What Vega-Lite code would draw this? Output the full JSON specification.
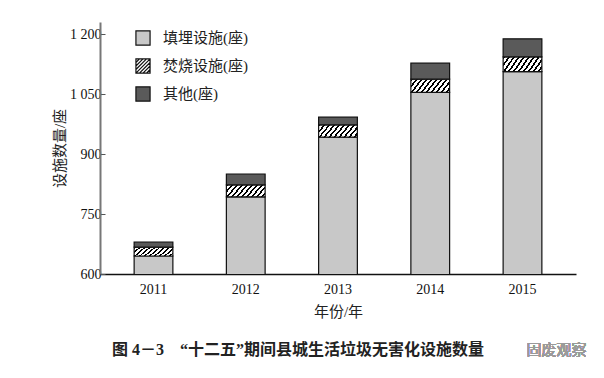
{
  "$schema": "https://vega.github.io/schema/vega-lite/v6.json",
  "width": 476,
  "height": 252,
  "autosize": "none",
  "padding": {"left": 100, "top": 22, "right": 28, "bottom": 104},
  "background": "white",
  "config": {
    "view": {"stroke": null},
    "font": "Liberation Serif"
  },
  "title": {
    "text": "图 4－3\u00a0\u00a0\u00a0\u00a0“十二五”期间县城生活垃圾无害化设施数量",
    "orient": "bottom",
    "anchor": "start",
    "frame": "group",
    "dx": 12,
    "offset": -16,
    "font": "Liberation Serif, Noto Sans CJK SC",
    "fontSize": 16,
    "fontWeight": "bold",
    "color": "#222"
  },
  "data": {
    "values": [
      {"year": "2011", "type": "填埋设施(座)", "count": 645},
      {"year": "2011", "type": "焚烧设施(座)", "count": 22},
      {"year": "2011", "type": "其他(座)", "count": 13},
      {"year": "2012", "type": "填埋设施(座)", "count": 793},
      {"year": "2012", "type": "焚烧设施(座)", "count": 30},
      {"year": "2012", "type": "其他(座)", "count": 27},
      {"year": "2013", "type": "填埋设施(座)", "count": 942},
      {"year": "2013", "type": "焚烧设施(座)", "count": 31},
      {"year": "2013", "type": "其他(座)", "count": 19},
      {"year": "2014", "type": "填埋设施(座)", "count": 1054},
      {"year": "2014", "type": "焚烧设施(座)", "count": 33},
      {"year": "2014", "type": "其他(座)", "count": 40},
      {"year": "2015", "type": "填埋设施(座)", "count": 1106},
      {"year": "2015", "type": "焚烧设施(座)", "count": 37},
      {"year": "2015", "type": "其他(座)", "count": 45}
    ]
  },
  "layer": [
    {
      "transform": [
        {"calculate": "indexof(['填埋设施(座)','焚烧设施(座)','其他(座)'], datum.type)", "as": "k"}
      ],
      "mark": {"type": "bar", "stroke": "#111", "strokeWidth": 1.2, "clip": true},
      "encoding": {
        "x": {
          "field": "year",
          "type": "ordinal",
          "scale": {"paddingInner": 0.58, "paddingOuter": 0.37},
          "axis": {
            "title": "年份/年",
            "titleFont": "Liberation Serif, Noto Sans CJK SC",
            "titleFontSize": 15,
            "titleFontWeight": "normal",
            "titleColor": "#222",
            "titlePadding": 8,
            "labelAngle": 0,
            "labelFontSize": 14,
            "labelColor": "#111",
            "labelPadding": 8,
            "ticks": false,
            "domainColor": "#111",
            "domainWidth": 1.5
          }
        },
        "y": {
          "field": "count",
          "type": "quantitative",
          "stack": "zero",
          "scale": {"domain": [600, 1230], "zero": false, "nice": false},
          "axis": {
            "title": "设施数量/座",
            "titleFont": "Liberation Serif, Noto Sans CJK SC",
            "titleFontSize": 15,
            "titleFontWeight": "normal",
            "titleColor": "#222",
            "titlePadding": 2,
            "values": [600, 750, 900, 1050, 1200],
            "labelExpr": "replace(format(datum.value, ','), ',', ' ')",
            "labelFontSize": 14,
            "labelColor": "#111",
            "labelPadding": 4,
            "tickSize": -5,
            "tickColor": "#555",
            "grid": false,
            "domainColor": "#777",
            "domainWidth": 2
          }
        },
        "order": {"field": "k", "type": "quantitative"},
        "fill": {
          "condition": {
            "test": "datum.type === '焚烧设施(座)'",
            "value": {
              "gradient": "linear",
              "x1": 0, "y1": 0, "x2": 1.2, "y2": 0.32,
              "stops": [
                {"offset": 0.0, "color": "#000"}, {"offset": 0.04, "color": "#000"}, {"offset": 0.04, "color": "#fff"}, {"offset": 0.1, "color": "#fff"},
                {"offset": 0.1, "color": "#000"}, {"offset": 0.14, "color": "#000"}, {"offset": 0.14, "color": "#fff"}, {"offset": 0.2, "color": "#fff"},
                {"offset": 0.2, "color": "#000"}, {"offset": 0.24, "color": "#000"}, {"offset": 0.24, "color": "#fff"}, {"offset": 0.3, "color": "#fff"},
                {"offset": 0.3, "color": "#000"}, {"offset": 0.34, "color": "#000"}, {"offset": 0.34, "color": "#fff"}, {"offset": 0.4, "color": "#fff"},
                {"offset": 0.4, "color": "#000"}, {"offset": 0.44, "color": "#000"}, {"offset": 0.44, "color": "#fff"}, {"offset": 0.5, "color": "#fff"},
                {"offset": 0.5, "color": "#000"}, {"offset": 0.54, "color": "#000"}, {"offset": 0.54, "color": "#fff"}, {"offset": 0.6, "color": "#fff"},
                {"offset": 0.6, "color": "#000"}, {"offset": 0.64, "color": "#000"}, {"offset": 0.64, "color": "#fff"}, {"offset": 0.7, "color": "#fff"},
                {"offset": 0.7, "color": "#000"}, {"offset": 0.74, "color": "#000"}, {"offset": 0.74, "color": "#fff"}, {"offset": 0.8, "color": "#fff"},
                {"offset": 0.8, "color": "#000"}, {"offset": 0.84, "color": "#000"}, {"offset": 0.84, "color": "#fff"}, {"offset": 0.9, "color": "#fff"},
                {"offset": 0.9, "color": "#000"}, {"offset": 0.94, "color": "#000"}, {"offset": 0.94, "color": "#fff"}, {"offset": 1.0, "color": "#fff"}
              ]
            }
          },
          "field": "type",
          "type": "nominal",
          "scale": {"domain": ["填埋设施(座)", "焚烧设施(座)", "其他(座)"], "range": ["#c8c8c8", "#ffffff", "#5a5a5a"]},
          "legend": {
            "title": null,
            "orient": "none",
            "legendX": 35,
            "legendY": 8,
            "symbolType": "square",
            "symbolSize": 200,
            "symbolStrokeColor": "#111",
            "symbolStrokeWidth": 1.2,
            "symbolOpacity": 1,
            "labelFont": "Liberation Serif, Noto Sans CJK SC",
            "labelFontSize": 15,
            "labelColor": "#222",
            "labelOffset": 12,
            "rowPadding": 8,
            "encode": {
              "symbols": {
                "update": {
                  "stroke": {"value": "#111"},
                  "strokeWidth": {"value": 1.2},
                  "shape": [
                    {
                      "test": "datum.value === '焚烧设施(座)'",
                      "value": "M-1,-1L1,-1L1,1L-1,1Z M-1,-0.5L-0.5,-1 M-1,0L0,-1 M-1,0.5L0.5,-1 M-1,1L1,-1 M-0.5,1L1,-0.5 M0,1L1,0 M0.5,1L1,0.5"
                    },
                    {"value": "square"}
                  ]
                }
              }
            }
          }
        }
      }
    },
    {
      "mark": {"type": "text", "text": "固废观察", "font": "Noto Sans CJK SC", "fontSize": 15, "fontWeight": "normal", "color": "#9a9a9a", "align": "left", "baseline": "middle", "dx": 4},
      "encoding": {
        "x": {"datum": "2015", "type": "ordinal"},
        "y": {"datum": 410, "type": "quantitative"}
      }
    }
  ]
}
